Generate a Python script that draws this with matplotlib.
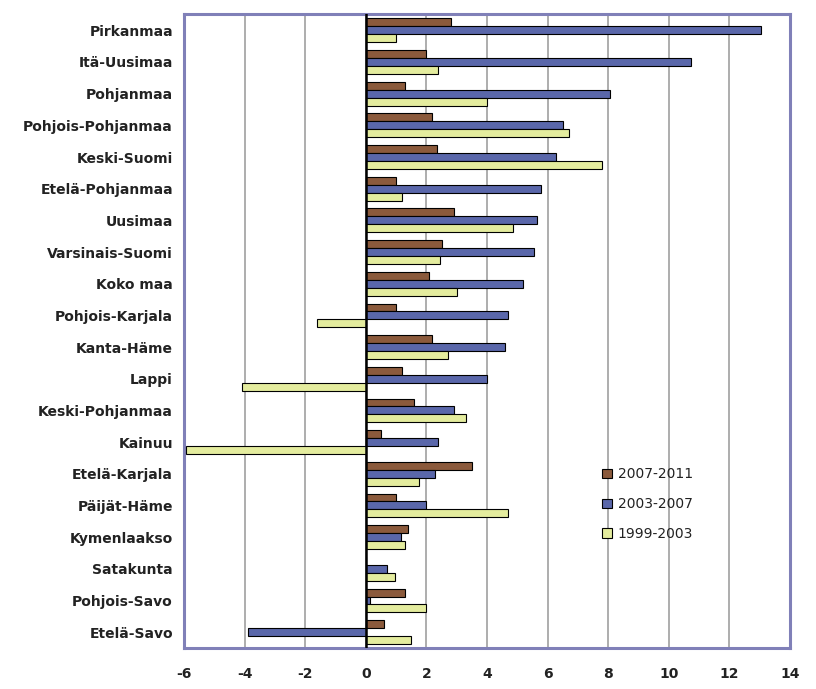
import matplotlib
matplotlib.use("Agg")
import matplotlib.pyplot as plt
import numpy as np

regions = ["Pirkanmaa", "Itä-Uusimaa", "Pohjanmaa", "Pohjois-Pohjanmaa", "Keski-Suomi",
           "Etelä-Pohjanmaa", "Uusimaa", "Varsinais-Suomi", "Koko maa", "Pohjois-Karjala",
           "Kanta-Häme", "Lappi", "Keski-Pohjanmaa", "Kainuu", "Etelä-Karjala",
           "Päijät-Häme", "Kymenlaakso", "Satakunta", "Pohjois-Savo", "Etelä-Savo"]
series_names = ["2007-2011", "2003-2007", "1999-2003"]
v2007_2011 = [2.8, 2.0, 1.3, 2.2, 2.35, 1.0, 2.9, 2.5, 2.1, 1.0,
              2.2, 1.2, 1.6, 0.5, 3.5, 1.0, 1.4, 0.0, 1.3, 0.6]
v2003_2007 = [13.05, 10.75, 8.05, 6.5, 6.27, 5.8, 5.65, 5.55, 5.2, 4.7,
              4.6, 4.0, 2.9, 2.4, 2.3, 2.0, 1.15, 0.7, 0.15, -3.9]
v1999_2003 = [1.0, 2.4, 4.0, 6.7, 7.8, 1.2, 4.85, 2.45, 3.0, -1.6,
              2.7, -4.1, 3.3, -5.95, 1.75, 4.7, 1.3, 0.95, 2.0, 1.5]
x_ticks = [-6, -4, -2, 0, 2, 4, 6, 8, 10, 12, 14]

colors = ["#8B5A3C", "#5A67AA", "#E4EC9E"]

fig = plt.figure(figsize=(8.16, 6.89), dpi=100)
ax = fig.add_axes([0.2255, 0.0595, 0.7425, 0.9195])

y = np.arange(len(regions))
h = 0.25
for k, (vals, c, name) in enumerate(zip([v2007_2011, v2003_2007, v1999_2003], colors, series_names)):
    ax.barh(y + (k - 1) * h, vals, height=h, color=c, edgecolor="black", linewidth=0.8,
            label=name, zorder=3)

ax.set_xlim(-6, 14)
ax.set_ylim(len(regions) - 0.5, -0.5)
ax.set_xticks(x_ticks)
ax.set_xticklabels([str(t) for t in x_ticks], fontsize=10, fontweight="bold", color="#222222")
ax.set_yticks(y)
ax.set_yticklabels(regions, fontsize=10, fontweight="bold", color="#222222")
ax.tick_params(axis="both", length=0, pad=8)
ax.tick_params(axis="x", pad=14)
ax.grid(axis="x", color="#A0A0A0", linewidth=1.2, zorder=0)
ax.axvline(0, color="black", linewidth=1.8, zorder=4)
for s in ax.spines.values():
    s.set_color("#8080B8")
    s.set_linewidth(2.2)

leg = ax.legend(loc="upper left", bbox_to_anchor=(0.67, 0.305), frameon=False,
                fontsize=10, handlelength=0.7, handleheight=0.7, labelspacing=1.15,
                handletextpad=0.4)
for t in leg.get_texts():
    t.set_color("#222222")

fig.savefig("out.png", dpi=100)
